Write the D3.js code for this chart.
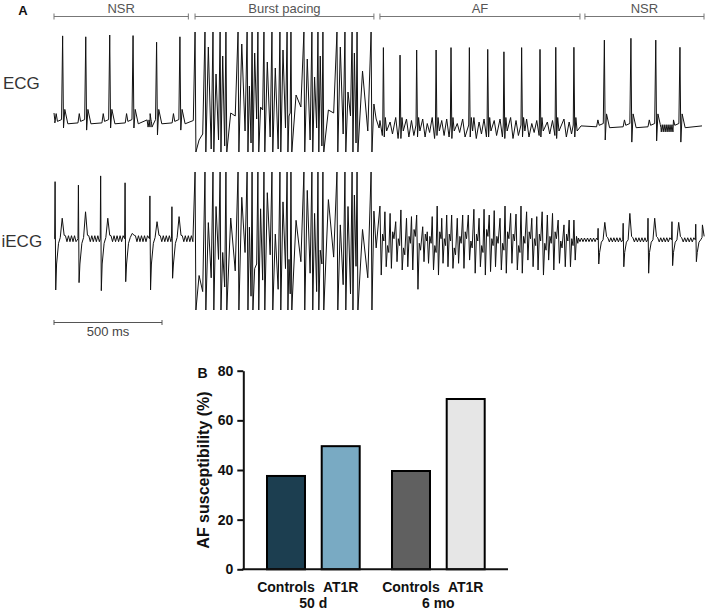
<!DOCTYPE html>
<html><head><meta charset="utf-8">
<script src="https://cdn.jsdelivr.net/npm/d3@7"></script>
<style>body{margin:0;background:#fff}svg{display:block}</style>
</head><body>
<svg id="c" width="709" height="611"></svg>
<script>
// ================= DATA =================
// Panel A: phases (ms)
const phaseLabels = ["NSR", "Burst pacing", "AF", "NSR"];
const phaseStart = [0, 653, 1509, 2458];
const phaseEnd = [622, 1481, 2435, 3010];
const scaleBarMs = [0, 500];

// ECG — sinus beats (ms, amplitude a.u.)
const ecgNsr1Beats = [40, 147, 258, 366, 475, 583];
const ecgNsr1Peak = [2.87, 2.84, 2.9, 2.88, 2.66, 2.84];
const ecgNsr1Trough = [-0.2, -0.27, -0.2, -0.2, -0.43, -0.27];
const ecgNsr2Beats = [2548, 2671, 2786, 2898];
const ecgNsr2Peak = [2.73, 2.79, 2.73, 2.49];
const ecgNsr2Trough = [-0.6, -0.67, -0.63, -0.67];
const ecgNoiseWindows = [[430, 458], [2806, 2866]];

// Burst pacing stimuli (ms) and responses
const burstT = [653, 699, 736, 769, 796, 852, 894, 917, 944, 972, 1009, 1046, 1079, 1097, 1157, 1194, 1222, 1245, 1310, 1347, 1380, 1403, 1468];
const burstEcgResp = [-0.6, 2.5, 1.6, 2.2, 0.3, 2.6, 1.2, 2.3, 0.5, 2.0, 1.8, 2.4, 0.2, 0.9, 2.1, 1.5, 2.2, 0.4, 2.5, 1.0, 2.3, 1.7, 0.6];
const burstEcgLow = [-0.4, -0.9, -0.6, -0.8, 0.2, -0.3, -0.7, 0.1, 0.4, -0.5, -0.9, -0.2, 0.3, 0.5, -0.6, -0.2, -0.8, 0.3, -0.4, 0.2, -0.7, -0.3, 0.1];
const burstIecgResp = [-1.5, 0.8, 1.5, -0.5, 1.0, 1.9, 0.6, -1.2, 1.4, 2.1, 0.3, 1.7, -0.8, 0.9, 2.2, 1.2, -0.4, 1.8, 0.7, 1.5, 2.0, 0.5, 1.3];
const burstIecgLow = [-2.2, -1.6, -0.8, -2.0, -1.3, -0.5, -2.4, -1.0, -1.7, -0.6, -2.1, -1.2, -2.3, -0.9, -1.4, -2.2, -1.0, -0.7, -1.9, -2.3, -1.1, -1.6, -0.3];

// AF — ventricular beats on ECG
const afEcgBeats = [1525, 1602, 1679, 1769, 1838, 1923, 2008, 2083, 2165, 2250, 2323, 2407];
const afEcgPeak = [2.48, 2.23, 2.4, 2.4, 2.48, 2.48, 2.42, 2.34, 2.48, 2.42, 2.49, 2.49];
const afEcgTrough = [-0.5, -0.55, -0.5, -0.45, -0.55, -0.5, -0.5, -0.55, -0.5, -0.5, -0.55, -0.5];
// AF — atrial activations (iECG) and f-waves (ECG)
const afT = [1509, 1532, 1556, 1582, 1606, 1632, 1655, 1679, 1707, 1728, 1751, 1774, 1795, 1818, 1841, 1867, 1892, 1918, 1944, 1968, 1991, 2015, 2038, 2065, 2088, 2114, 2139, 2162, 2188, 2212, 2235, 2260, 2284, 2308, 2334, 2361, 2385, 2407];
const afIecgPeak = [1.52, 1.27, 1.20, 0.84, 1.35, 0.99, 1.06, 1.13, 0.62, 0.40, 1.06, 1.52, 0.99, 1.13, 1.13, 0.99, 1.13, 1.13, 1.38, 0.99, 1.38, 1.13, 1.32, 0.99, 1.52, 1.20, 1.17, 1.52, 1.27, 0.99, 1.06, 1.27, 1.13, 1.20, 0.91, 0.70, 0.91, 0.91];
const afIecgTrough = [-1.48, -1.12, -1.19, -0.90, -1.26, -1.12, -1.26, -2.10, -0.90, -0.97, -1.26, -1.48, -0.97, -1.12, -1.19, -0.97, -1.19, -0.83, -1.40, -1.12, -1.48, -1.33, -1.12, -1.26, -1.40, -0.97, -1.26, -1.40, -0.83, -1.12, -1.26, -1.48, -0.83, -1.26, -0.97, -1.12, -1.12, -0.83];
const afIecgMid = [0.3, -0.2, 0.4, 0.1, -0.3, 0.2, 0.5, -0.1, 0.3, 0.2, -0.2, 0.4, 0.1, 0.3, -0.3, 0.2, 0.4, 0.0, 0.3, -0.2, 0.5, 0.1, 0.2, -0.1, 0.4, 0.3, -0.2, 0.2, 0.4, 0.1, 0.3, -0.1, 0.2, 0.4, 0.0, 0.3, 0.1, 0.2];
const afEcgF = [0.25, 0.3, 0.2, 0.35, 0.15, 0.3, 0.25, 0.2, 0.3, 0.15, 0.35, 0.2, 0.25, 0.3, 0.2, 0.15, 0.3, 0.25, 0.35, 0.2, 0.3, 0.15, 0.25, 0.3, 0.2, 0.35, 0.25, 0.2, 0.3, 0.15, 0.25, 0.3, 0.2, 0.25, 0.15, 0.3, 0.2, 0.15];

// iECG — sinus beats
const iecgNsr1Beats = [5, 113, 216, 329, 444, 546];
const iecgNsr1Peak = [2.58, 2.43, 2.83, 2.53, 1.96, 1.49];
const iecgNsr1Trough = [-2.13, -1.81, -2.16, -1.77, -2.13, -1.62];
const iecgNsr1Bump = [0.99, 1.27, 0.99, 0.33, 0.84, 1.06];
const iecgNsr2Beats = [2520, 2636, 2751, 2862, 2972];
const iecgNsr2Peak = [0.55, 0.77, 0.99, 0.84, 0.73];
const iecgNsr2Trough = [-1.0, -1.12, -1.40, -1.07, -0.90];
const iecgNsr2Bump = [0.81, 1.20, 0.99, 0.81, 0.70];

// Panel B
const groups = ["50 d", "6 mo"];
const subgroups = ["Controls", "AT1R"];
const afSusceptibility = [[38, 50], [40, 69]];
const barColors = [["#1c3e50", "#79aac3"], ["#606060", "#e6e6e6"]];
const yTicks = [0, 20, 40, 60, 80];

// ================= DRAW =================
const FONT = "'Liberation Sans', Arial, Helvetica, sans-serif";
const svg = d3.select("#c");
const x = d3.scaleLinear().domain([0, 3000]).range([54, 702]);
const yE = d3.scaleLinear().domain([-1, 3]).range([152, 32]);
const yI = d3.scaleLinear().domain([-3, 3]).range([310, 172]);

function ripple(arr, t0, t1, b, a, step) {
  let k = 0;
  for (let t = t0; t < t1; t += step, k++) arr.push([t, b + (k % 2 ? -a : a)]);
}

// ---- ECG ----
const E = [];
const b1 = 0;
E.push([0, 0.3], [4, 0.05]);
ecgNsr1Beats.forEach((t, i) => {
  E.push([t - 36, b1 - 0.03], [t - 30, b1 + 0.28], [t - 24, b1 + 0.02], [t - 5, b1 + 0.08],
    [t, ecgNsr1Peak[i]], [t + 4, ecgNsr1Trough[i]], [t + 10, b1 + 0.42], [t + 24, b1 - 0.06]);
});
E.push([645, 0.05]);
burstT.forEach((t, i) => {
  const nx = i < burstT.length - 1 ? burstT[i + 1] : t + 30;
  const g = nx - t - 4;
  E.push([t, 3.0], [t + 4, -1.0], [t + 4 + g * 0.35, burstEcgResp[i]], [t + 4 + g * 0.75, burstEcgLow[i]]);
});
const bAf = -0.2;
E.push([1505, bAf]);
afEcgBeats.forEach((t, i) => {
  E.push([t - 3, bAf + 0.1], [t, afEcgPeak[i]], [t + 4, afEcgTrough[i]], [t + 9, bAf + 0.35], [t + 15, bAf - 0.1]);
});
afT.forEach((t, j) => {
  if (afEcgBeats.some(bt => t > bt - 6 && t < bt + 18)) return;
  E.push([t, bAf + afEcgF[j]], [t + 11, bAf - afEcgF[j]]);
});
const b2 = -0.13;
E.push([2440, b2]);
ecgNsr2Beats.forEach((t, i) => {
  E.push([t - 36, b2 - 0.03], [t - 30, b2 + 0.2], [t - 24, b2 + 0.02], [t - 5, b2 + 0.08],
    [t, ecgNsr2Peak[i]], [t + 4, ecgNsr2Trough[i]], [t + 10, b2 + 0.4], [t + 24, b2 - 0.06]);
});
E.push([3000, b2]);
ecgNoiseWindows.forEach(([a, c]) => ripple(E, a + 1, c, a < 1000 ? -0.05 : b2 - 0.08, 0.12, 4.5));
E.sort((p, q) => p[0] - q[0]);

// ---- iECG ----
const I = [];
const ib1 = 0.1;
I.push([0, ib1]);
iecgNsr1Beats.forEach((t, i) => {
  I.push([t - 2, ib1], [t, iecgNsr1Peak[i]], [t + 3, iecgNsr1Trough[i]], [t + 7, -1.0], [t + 16, -0.1],
    [t + 24, ib1 + 0.05], [t + 33, iecgNsr1Bump[i]], [t + 42, ib1 + 0.15]);
  const nx = i < iecgNsr1Beats.length - 1 ? iecgNsr1Beats[i + 1] - 4 : 646;
  ripple(I, t + 48, nx, ib1, 0.13, 7);
});
burstT.forEach((t, i) => {
  const nx = i < burstT.length - 1 ? burstT[i + 1] : t + 30;
  const g = nx - t - 4;
  I.push([t, 3.0], [t + 4, -3.0], [t + 4 + g * 0.35, burstIecgResp[i]], [t + 4 + g * 0.75, burstIecgLow[i]]);
});
afT.forEach((t, j) => {
  I.push([t, afIecgPeak[j]], [t + 6, afIecgTrough[j]], [t + 12, afIecgMid[j]], [t + 18, afIecgMid[j] - 0.3]);
});
const ib2 = 0.05;
ripple(I, 2428, iecgNsr2Beats[0] - 4, ib2, 0.08, 7);
iecgNsr2Beats.forEach((t, i) => {
  I.push([t - 3, ib2], [t - 1, iecgNsr2Peak[i]], [t + 2, iecgNsr2Trough[i]], [t + 6, -0.5], [t + 14, ib2 - 0.1],
    [t + 22, ib2], [t + 30, iecgNsr2Bump[i]], [t + 38, ib2 + 0.15]);
  const nx = i < iecgNsr2Beats.length - 1 ? iecgNsr2Beats[i + 1] - 4 : 3000;
  ripple(I, t + 44, nx, ib2, 0.09, 7);
});
I.push([3000, ib2 + 0.1]);
I.sort((p, q) => p[0] - q[0]);

const gA = svg.append("g");
gA.append("path").datum(E).attr("d", d3.line().x(d => x(d[0])).y(d => yE(d[1])))
  .attr("fill", "none").attr("stroke", "#111").attr("stroke-width", 1).attr("stroke-linejoin", "round");
gA.append("path").datum(I).attr("d", d3.line().x(d => x(d[0])).y(d => yI(d[1])))
  .attr("fill", "none").attr("stroke", "#111").attr("stroke-width", 1).attr("stroke-linejoin", "round");

// phase brackets
phaseLabels.forEach((lab, i) => {
  const x0 = x(phaseStart[i]), x1 = Math.min(x(phaseEnd[i]), 704);
  const g = gA.append("g").attr("stroke", "#777").attr("stroke-width", 1);
  g.append("line").attr("x1", x0).attr("x2", x1).attr("y1", 16.5).attr("y2", 16.5);
  g.append("line").attr("x1", x0).attr("x2", x0).attr("y1", 13.5).attr("y2", 19.5);
  g.append("line").attr("x1", x1).attr("x2", x1).attr("y1", 13.5).attr("y2", 19.5);
  gA.append("text").attr("x", (x0 + x1) / 2).attr("y", 12.5).attr("text-anchor", "middle")
    .attr("font-family", FONT).attr("font-size", 13).attr("fill", "#555").text(lab);
});
gA.append("text").attr("x", 23).attr("y", 15).attr("text-anchor", "middle").attr("font-family", FONT)
  .attr("font-size", 13).attr("font-weight", "bold").attr("fill", "#111").text("A");
gA.append("text").attr("x", 3).attr("y", 88.5).attr("font-family", FONT).attr("font-size", 17)
  .attr("fill", "#333").text("ECG");
gA.append("text").attr("x", 1.5).attr("y", 246.5).attr("font-family", FONT).attr("font-size", 17)
  .attr("fill", "#333").text("iECG");
// scale bar
const sb = gA.append("g").attr("stroke", "#555").attr("stroke-width", 1);
sb.append("line").attr("x1", x(scaleBarMs[0])).attr("x2", x(scaleBarMs[1])).attr("y1", 322.5).attr("y2", 322.5);
sb.append("line").attr("x1", x(scaleBarMs[0])).attr("x2", x(scaleBarMs[0])).attr("y1", 320).attr("y2", 325);
sb.append("line").attr("x1", x(scaleBarMs[1])).attr("x2", x(scaleBarMs[1])).attr("y1", 320).attr("y2", 325);
gA.append("text").attr("x", (x(scaleBarMs[0]) + x(scaleBarMs[1])) / 2).attr("y", 335.5).attr("text-anchor", "middle")
  .attr("font-family", FONT).attr("font-size", 13).attr("fill", "#444").text("500 ms");

// ---- Panel B ----
const gB = svg.append("g");
const yB = d3.scaleLinear().domain([0, 80]).range([569.3, 370.7]);
const x0 = d3.scaleBand().domain(groups).range([266, 485.7]).paddingInner(0.2424).paddingOuter(0);
const x1 = d3.scaleBand().domain(subgroups).range([0, x0.bandwidth()]).paddingInner(0.269).paddingOuter(0);

groups.forEach((g, gi) => {
  subgroups.forEach((s, si) => {
    const bx = x0(g) + x1(s), bw = x1.bandwidth();
    const v = afSusceptibility[gi][si];
    gB.append("rect").attr("x", bx + 1).attr("width", bw - 2)
      .attr("y", yB(v) + 1).attr("height", yB(0) - yB(v) - 1)
      .attr("fill", barColors[gi][si]).attr("stroke", "#000").attr("stroke-width", 2);
    gB.append("text").attr("x", bx + bw / 2).attr("y", 591.5).attr("text-anchor", "middle")
      .attr("font-family", FONT).attr("font-size", 14).attr("font-weight", "bold").attr("fill", "#111").text(s);
  });
  gB.append("text").attr("x", x0(g) + x0.bandwidth() / 2).attr("y", 608).attr("text-anchor", "middle")
    .attr("font-family", FONT).attr("font-size", 14).attr("font-weight", "bold").attr("fill", "#111").text(g);
});

const axY = gB.append("g").attr("transform", "translate(243.3,0)")
  .call(d3.axisLeft(yB).tickValues(yTicks).tickSize(6).tickSizeOuter(0).tickPadding(4));
axY.select(".domain").attr("stroke", "#111").attr("stroke-width", 2);
axY.selectAll(".tick line").attr("stroke", "#111").attr("stroke-width", 2);
axY.selectAll(".tick text").attr("font-family", FONT).attr("font-size", 14).attr("font-weight", "bold").attr("fill", "#111");
gB.append("line").attr("x1", 242.3).attr("x2", 508).attr("y1", yB(0)).attr("y2", yB(0))
  .attr("stroke", "#111").attr("stroke-width", 2);

gB.append("text").attr("transform", "translate(209,470) rotate(-90)").attr("text-anchor", "middle")
  .attr("font-family", FONT).attr("font-size", 16).attr("font-weight", "bold").attr("fill", "#111")
  .text("AF susceptibility (%)");
gB.append("text").attr("x", 202.5).attr("y", 377.5).attr("text-anchor", "middle").attr("font-family", FONT)
  .attr("font-size", 14).attr("font-weight", "bold").attr("fill", "#111").text("B");
</script>
</body></html>
